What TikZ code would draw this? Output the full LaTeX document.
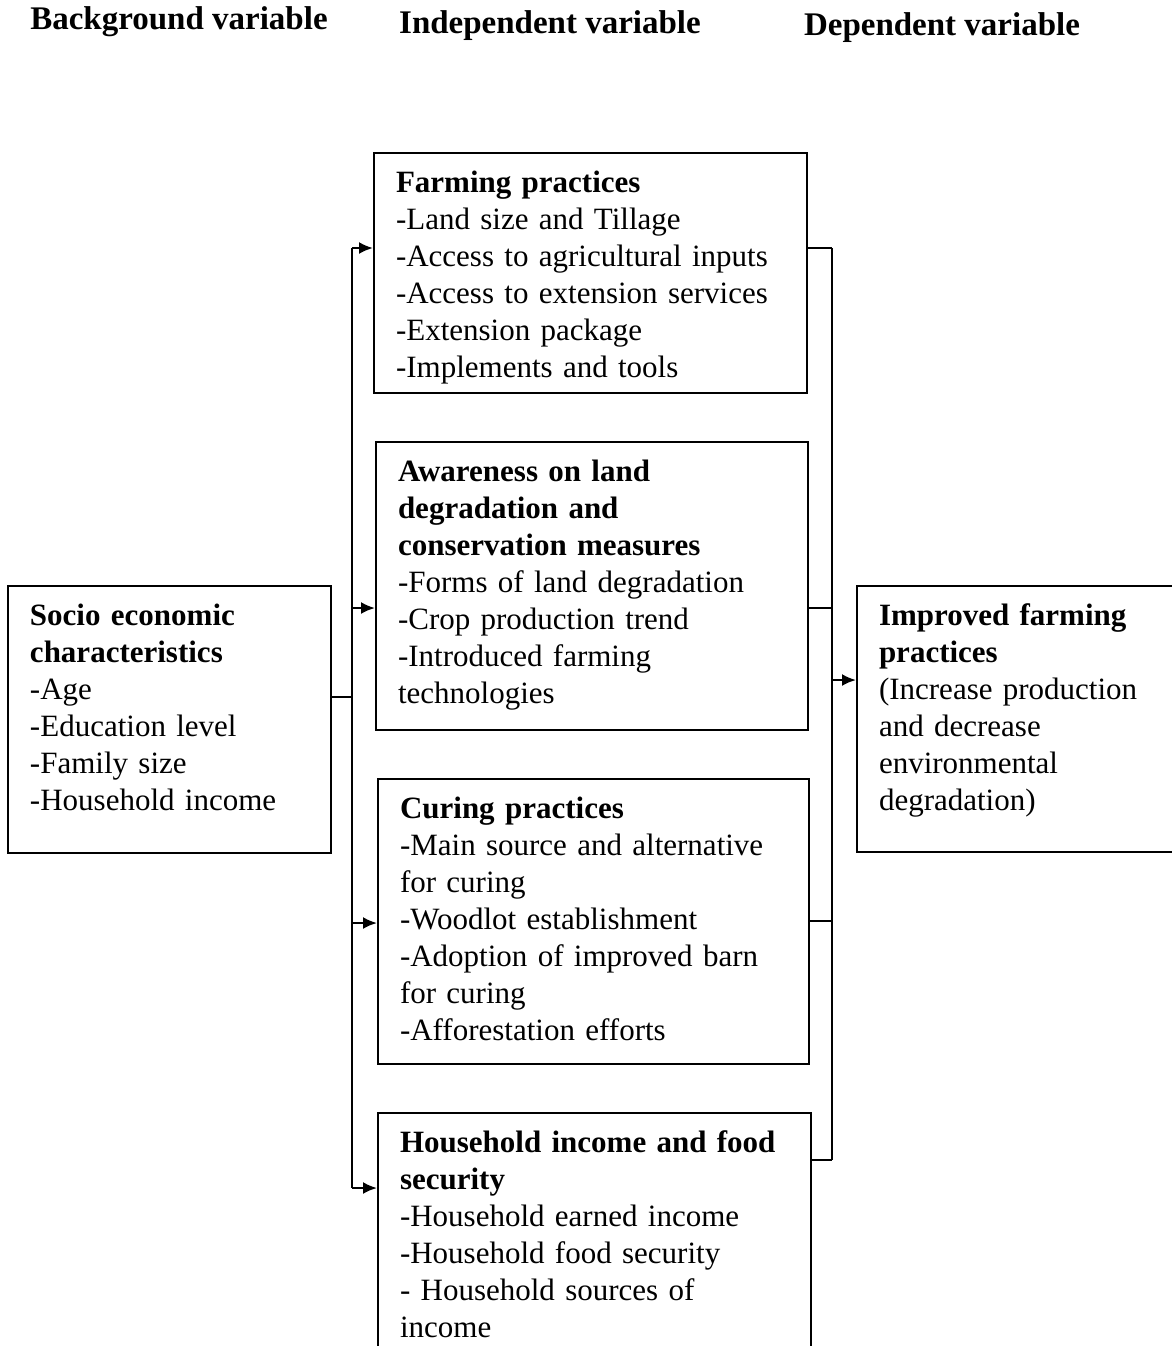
\documentclass[tikz,border=0pt]{standalone}
\usepackage{fontspec}
\setmainfont{Liberation Serif}
\usepackage{tikz}
\usetikzlibrary{arrows.meta,positioning}
\newcommand{\diagfont}{\fontsize{15.5pt}{18.5pt}\selectfont}
\tikzstyle{box} = [draw, line width=1pt, anchor=north west, align=left, inner xsep=11pt, inner ysep=9pt, font=\diagfont]
\tikzstyle{head} = [font=\fontsize{16.5pt}{19pt}\selectfont\bfseries]
\tikzstyle{link} = [line width=1.1pt]
\tikzstyle{arrow} = [line width=1.1pt,->,>={Latex[length=7pt,width=6pt]}]

\begin{document}
\begin{tikzpicture}[x=0.5pt, y=-0.5pt]
\clip (0,0) rectangle (1172,1346);

% Column headings
\node[head] (bghead) at (179,22) {Background variable};
\node[head] (inhead) at (550,26) {Independent variable};
\node[head] (dphead) at (942,28) {Dependent variable};

% Background variable
\node[box, text width=139.5pt, text depth=104.9pt] (socio) at (7,585) {\textbf{Socio economic}\\\textbf{characteristics}\\-Age\\-Education level\\-Family size\\-Household income};

% Independent variables
\node[box, text width=194.5pt, text depth=91.4pt] (farm) at (373,152) {\textbf{Farming practices}\\-Land size and Tillage\\-Access to agricultural inputs\\-Access to extension services\\-Extension package\\-Implements and tools};
\node[box, text width=194pt, text depth=115.4pt] (aware) at (375,441) {\textbf{Awareness on land}\\\textbf{degradation and}\\\textbf{conservation measures}\\-Forms of land degradation\\-Crop production trend\\-Introduced farming\\technologies};
\node[box, text width=193.5pt, text depth=113.9pt] (cure) at (377,778) {\textbf{Curing practices}\\-Main source and alternative\\for curing\\-Woodlot establishment\\-Adoption of improved barn\\for curing\\-Afforestation efforts};
\node[box, text width=194.5pt, text depth=101.4pt] (house) at (377,1112) {\textbf{Household income and food}\\\textbf{security}\\-Household earned income\\-Household food security\\- Household sources of\\income};

% Dependent variable
\node[box, text width=148pt, text depth=103.9pt] (goal) at (856,585) {\textbf{Improved farming}\\\textbf{practices}\\(Increase production\\and decrease\\environmental\\degradation)};

% Left bus
\coordinate (lsoc) at (352,697);
\coordinate (lb1) at (352,248);
\coordinate (lb2) at (352,608);
\coordinate (lb3) at (352,923);
\coordinate (lb4) at (352,1188);
\draw[link] (lsoc -| socio.east) -- (lsoc);
\draw[link] (lb1) -- (lb4);
\draw[arrow] (lb1) -- (lb1 -| farm.west);
\draw[arrow] (lb2) -- (lb2 -| aware.west);
\draw[arrow] (lb3) -- (lb3 -| cure.west);
\draw[arrow] (lb4) -- (lb4 -| house.west);

% Right bus
\coordinate (rb1) at (832,248);
\coordinate (rb2) at (832,608);
\coordinate (rb3) at (832,921);
\coordinate (rb4) at (832,1160);
\coordinate (rgoal) at (832,680);
\draw[link] (rb1) -- (rb4);
\draw[link] (rb1 -| farm.east) -- (rb1);
\draw[link] (rb2 -| aware.east) -- (rb2);
\draw[link] (rb3 -| cure.east) -- (rb3);
\draw[link] (rb4 -| house.east) -- (rb4);
\draw[arrow] (rgoal) -- (rgoal -| goal.west);
\end{tikzpicture}
\end{document}
